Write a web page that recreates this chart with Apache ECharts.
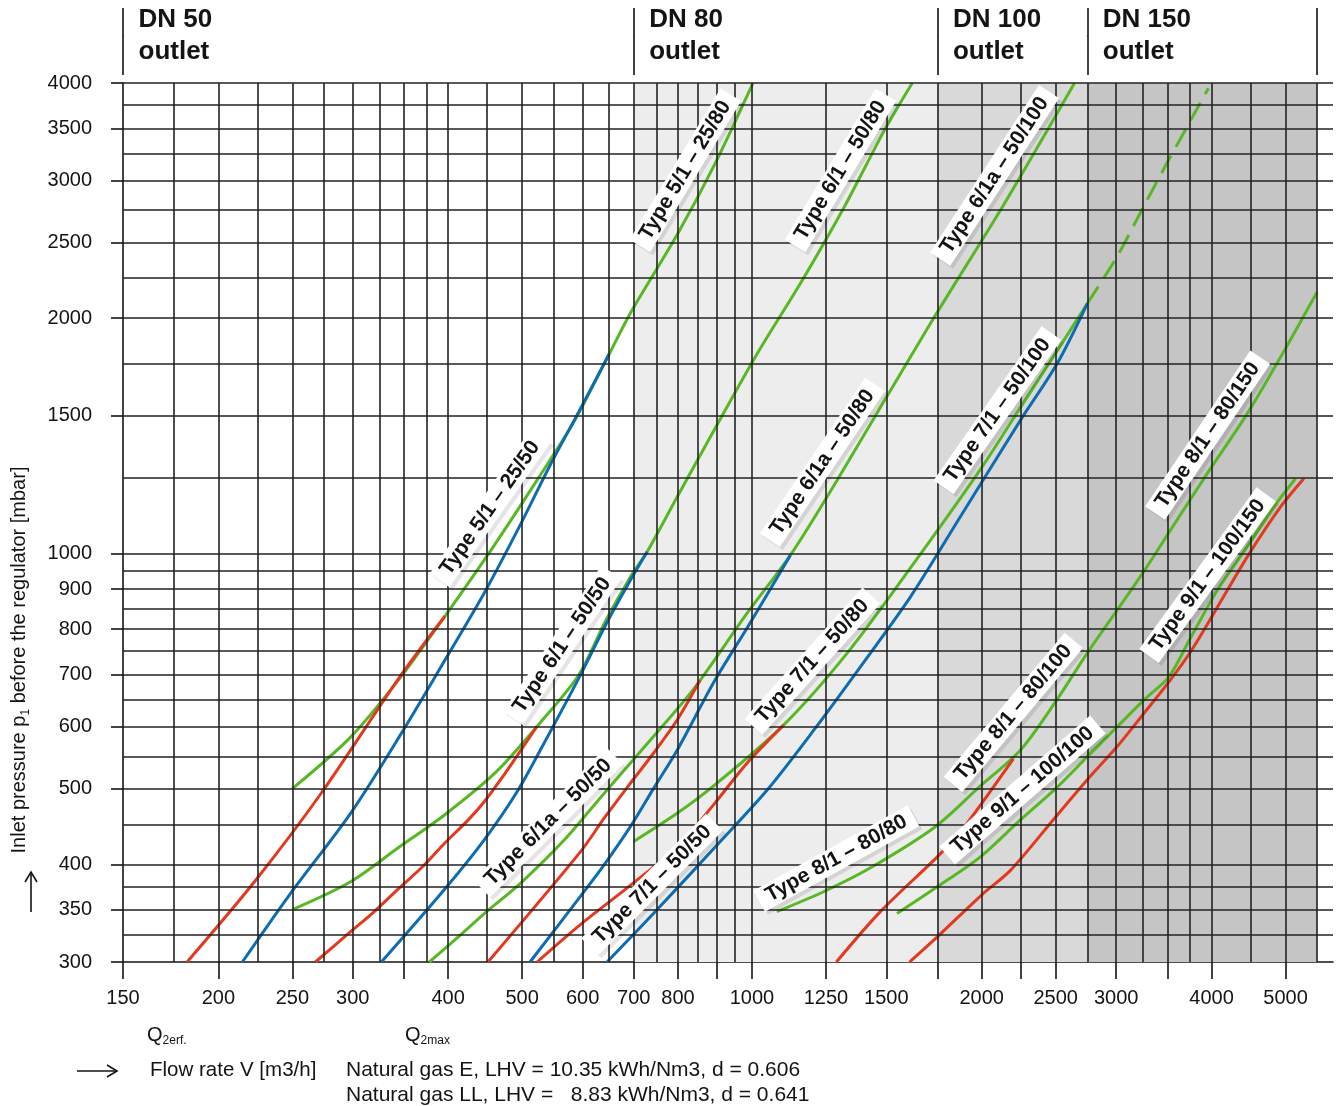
<!DOCTYPE html>
<html>
<head>
<meta charset="utf-8">
<script src="https://cdn.jsdelivr.net/npm/echarts@6/dist/echarts.min.js"></script>
<style>html,body{margin:0;padding:0;background:#fff}#c{width:1336px;height:1106px}</style>
</head>
<body>
<div id="c"></div>
<script>
// ---------- axis values ----------
const xTickValues = [150,200,250,300,350,400,500,600,700,800,900,1000,1250,1500,1750,2000,2250,2500,3000,3500,4000,5000];
const xLabelValues = [150,200,250,300,400,500,600,700,800,1000,1250,1500,2000,2500,3000,4000,5000];
const xGridValues = [175,200,225,250,275,300,325,350,375,400,450,500,550,600,650,700,750,800,850,900,950,1000,1250,1500,1750,2000,2250,2500,2750,3000,3250,3500,3750,4000,4500,5000,5500];
const yTickValues = [300,350,400,500,600,700,800,900,1000,1500,2000,2500,3000,3500,4000];
const yGridValues = [325,350,375,400,450,500,550,600,650,700,750,800,850,900,950,1000,1250,1500,1750,2000,2250,2500,2750,3000,3250,3500,3750,4000];

// ---------- outlet zones ----------
const zoneNames = ['DN 50','DN 80','DN 100','DN 150'];
const zoneBounds = [150,700,1750,2750,5500];

// ---------- curves: [flow m3/h, inlet pressure mbar] ----------
const greenType51 = [[250,500],[298,582],[346,693],[396,831],[458,1019],[523,1241],[585,1476],[648,1788],[693,2030],[800,2569],[895,3157],[1003,4000]];
const redType51   = [[182,300],[223,380],[273,494],[345,693],[396,831]];
const blueType51  = [[215,300],[248,366],[298,465],[346,585],[396,730],[446,890],[497,1087],[544,1297],[593,1517],[650,1800]];

const greenType61 = [[250,350],[298,380],[344,420],[396,463],[463,526],[527,606],[593,699],[644,822],[693,933],[729,1005],[798,1181],[1010,1784],[1164,2237],[1321,2776],[1491,3479],[1622,4000]];
const redType61   = [[268,300],[298,328],[319,347],[345,373],[369,396],[396,426],[425,456],[446,481],[473,520],[497,558],[523,601]];
const blueType61  = [[327,300],[396,372],[446,430],[494,498],[544,591],[593,692],[645,814],[693,924],[729,1005]];

const greenType61a = [[378,300],[411,322],[446,346],[497,378],[568,430],[640,493],[743,583],[843,675],[985,838],[1123,995],[1293,1241],[1713,1969],[2141,2803],[2646,4000]];
const redType61a   = [[451,300],[596,415],[642,460],[693,508],[743,555],[798,612],[855,688]];
const blueType61a  = [[512,300],[596,364],[642,401],[693,447],[743,500],[798,560],[895,689],[985,802],[1123,995]];

const greenType71       = [[700,428],[798,465],[895,506],[1100,603],[1332,745],[1629,971],[1992,1281],[2247,1537],[2499,1804],[2751,2090]];
const greenType71Dashed = [[2751,2090],[3006,2396],[3274,2803],[3513,3185],[3963,3939]];
const redType71         = [[523,300],[596,335],[693,376],[798,421],[891,477],[985,539],[1100,603]];
const blueType71        = [[646,300],[743,346],[895,421],[1047,498],[1205,594],[1387,716],[1613,880],[1875,1114],[2247,1480],[2511,1750],[2751,2090]];

const greenType81 = [[1078,348],[1241,369],[1430,396],[1739,447],[1992,504],[2247,560],[2499,646],[2748,745],[3009,846],[3258,947],[3534,1071],[3949,1266],[4455,1510],[4971,1811],[5500,2160]];
const redType81   = [[1290,300],[1473,348],[1749,409],[1875,440],[2200,546]];

const greenType91 = [[1549,346],[1739,373],[1992,409],[2247,456],[2499,500],[2748,549],[3009,600],[3261,649],[3516,695],[3753,779],[4070,897],[4455,1020],[4827,1147],[5154,1247]];
const redType91   = [[1609,300],[1749,323],[2002,366],[2181,393],[2499,460],[2748,513],[3009,566],[3261,624],[3534,689],[3753,748],[4027,838],[4455,990],[4926,1147],[5285,1247]];

// ---------- curve label texts ----------
const curveLabelText = ['Type 5/1 – 25/50','Type 5/1 – 25/80','Type 6/1 – 50/80','Type 6/1a – 50/100','Type 6/1 – 50/50','Type 6/1a – 50/80','Type 7/1 – 50/100','Type 8/1 – 80/150','Type 9/1 – 100/150','Type 6/1a – 50/50','Type 7/1 – 50/80','Type 8/1 – 80/100','Type 9/1 – 100/100','Type 7/1 – 50/50','Type 8/1 – 80/80'];

// ---------- layout / style (not data) ----------
const labelPlacement = [[454,1143,55],[818,3092,59],[1306,3092,59],[2079,3047,57],[564,763,56],[1237,1308,56],[2097,1525,55],[3953,1417,56],[3953,938,54],[541,453,45],[1200,728,48],[2200,626,50],[2262,498,41],[740,377,45],[1290,407,29]];
const FONT = "'Liberation Sans', Helvetica, Arial, sans-serif";
const INK = '#141414';
const GRID = '#222222';
const GREEN = '#58b824', RED = '#e2391f', BLUE = '#0c6db4';
const ZONE_COLORS = ['#ecedec','#d9d9d9','#c5c5c5'];
const X_MAX = 5770;

function curve(data, color, z, dashed) {
  return {
    type: 'line', xAxisIndex: 0, yAxisIndex: 0, data: data,
    symbol: 'none', showSymbol: false, smooth: 0.3, silent: true, z: z,
    lineStyle: { color: color, width: 3, type: dashed ? [20, 10] : 'solid', cap: 'butt' }
  };
}

const series = [];
// zone shading
series.push({
  type: 'line', xAxisIndex: 0, yAxisIndex: 0, data: [[1000, 1000]], symbol: 'none',
  lineStyle: { opacity: 0 }, z: 1, silent: true,
  markArea: {
    silent: true, label: { show: false },
    data: [1, 2, 3].map((i, k) => [
      { xAxis: zoneBounds[i], itemStyle: { color: ZONE_COLORS[k] } },
      { xAxis: zoneBounds[i + 1] }
    ])
  }
});
// grid lines
series.push({
  type: 'line', xAxisIndex: 0, yAxisIndex: 0, data: [[1000, 1000]], symbol: 'none',
  lineStyle: { opacity: 0 }, z: 2, silent: true,
  markLine: {
    silent: true, symbol: ['none', 'none'], label: { show: false },
    lineStyle: { color: GRID, width: 1.6, type: 'solid' },
    emphasis: { disabled: true },
    data: xGridValues.map(v => ({ xAxis: v })).concat(yGridValues.map(v => ({ yAxis: v })))
  }
});
// curves
[greenType51, greenType61, greenType61a, greenType71, greenType81, greenType91].forEach(d => series.push(curve(d, GREEN, 3)));
series.push(curve(greenType71Dashed, GREEN, 3, true));
[redType51, redType61, redType61a, redType71, redType81, redType91].forEach(d => series.push(curve(d, RED, 4)));
[blueType51, blueType61, blueType61a, blueType71].forEach(d => series.push(curve(d, BLUE, 4)));
// curve labels
series.push({
  type: 'scatter', xAxisIndex: 0, yAxisIndex: 0, symbolSize: 1, silent: true, z: 10,
  itemStyle: { color: '#ffffff', opacity: 1 },
  emphasis: { disabled: true },
  label: {
    show: true, position: 'inside', formatter: '{b}', fontFamily: FONT, fontSize: 21, fontWeight: 'bold',
    color: INK, opacity: 1, textBorderWidth: 0, backgroundColor: '#ffffff', padding: [2, 9, 1, 9],
    shadowColor: 'rgba(0,0,0,0.10)', shadowOffsetX: 3, shadowOffsetY: 3, shadowBlur: 0
  },
  data: curveLabelText.map((t, i) => ({
    name: t, value: [labelPlacement[i][0], labelPlacement[i][1]], label: { rotate: labelPlacement[i][2] }
  }))
});
// header separators
series.push({
  type: 'line', xAxisIndex: 1, yAxisIndex: 1, data: [[1000, 0.5]], symbol: 'none',
  lineStyle: { opacity: 0 }, silent: true, z: 2,
  markLine: {
    silent: true, symbol: ['none', 'none'], label: { show: false },
    lineStyle: { color: INK, width: 1.6, type: 'solid' }, emphasis: { disabled: true },
    data: zoneBounds.map(v => ({ xAxis: v }))
  }
});
// header texts
series.push({
  type: 'scatter', xAxisIndex: 1, yAxisIndex: 1, symbolSize: 1, silent: true, z: 5,
  itemStyle: { color: INK, opacity: 1 },
  emphasis: { disabled: true },
  label: {
    show: true, position: 'right', distance: 15, formatter: p => p.name + '\noutlet',
    fontFamily: FONT, fontSize: 26, fontWeight: 'bold', color: INK, opacity: 1, textBorderWidth: 0,
    lineHeight: 32, align: 'left'
  },
  data: zoneNames.map((n, i) => ({ name: n, value: [zoneBounds[i], 0.58] }))
});

const option = {
  animation: false,
  backgroundColor: '#ffffff',
  textStyle: { fontFamily: FONT },
  grid: [
    { left: 123, right: 3, top: 83, bottom: 144, containLabel: false, outerBoundsMode: 'none' },
    { left: 123, right: 3, top: 8, height: 67, containLabel: false, outerBoundsMode: 'none' }
  ],
  xAxis: [
    {
      type: 'log', logBase: 10, gridIndex: 0, min: 150, max: X_MAX,
      axisLine: { show: true, onZero: false, lineStyle: { color: INK, width: 1.6 } },
      axisTick: { show: true, customValues: xTickValues, length: 17, lineStyle: { color: INK, width: 1.6 } },
      axisLabel: { show: true, customValues: xLabelValues, margin: 26, fontSize: 20, color: INK, fontFamily: FONT,
                   hideOverlap: false, formatter: v => String(Math.round(v)) },
      splitLine: { show: false }, minorTick: { show: false }, minorSplitLine: { show: false }
    },
    { type: 'log', logBase: 10, gridIndex: 1, min: 150, max: X_MAX, show: false }
  ],
  yAxis: [
    {
      type: 'log', logBase: 10, gridIndex: 0, min: 300, max: 4000,
      axisLine: { show: true, onZero: false, lineStyle: { color: INK, width: 1.6 } },
      axisTick: { show: true, customValues: yTickValues, length: 12, lineStyle: { color: INK, width: 1.6 } },
      axisLabel: { show: true, customValues: yTickValues, margin: 31, fontSize: 20, color: INK, fontFamily: FONT,
                   hideOverlap: false, formatter: v => String(Math.round(v)) },
      splitLine: { show: false }, minorTick: { show: false }, minorSplitLine: { show: false }
    },
    { type: 'value', gridIndex: 1, min: 0, max: 1, show: false }
  ],
  graphic: [
    { type: 'text', x: 19, y: 660, rotation: Math.PI / 2, silent: true,
      style: { text: 'Inlet pressure p{s|1} before the regulator [mbar]', fontFamily: FONT, fontSize: 20, fill: INK,
               align: 'center', verticalAlign: 'middle',
               rich: { s: { fontFamily: FONT, fontSize: 12, fill: INK, verticalAlign: 'bottom', lineHeight: 26 } } } },
    { type: 'line', silent: true, shape: { x1: 31, y1: 912, x2: 31, y2: 872 }, style: { stroke: INK, lineWidth: 1.6 } },
    { type: 'polyline', silent: true, shape: { points: [[25, 882], [31, 872], [37, 882]] }, style: { stroke: INK, lineWidth: 1.6, fill: null } },
    { type: 'line', silent: true, shape: { x1: 77, y1: 1071, x2: 117, y2: 1071 }, style: { stroke: INK, lineWidth: 1.6 } },
    { type: 'polyline', silent: true, shape: { points: [[107, 1065], [117, 1071], [107, 1077]] }, style: { stroke: INK, lineWidth: 1.6, fill: null } },
    { type: 'text', x: 147, y: 1035, silent: true,
      style: { text: '{q|Q}{s|2erf.}', verticalAlign: 'middle', fill: INK,
               rich: { q: { fontFamily: FONT, fontSize: 20, fill: INK, lineHeight: 24 },
                       s: { fontFamily: FONT, fontSize: 12, fill: INK, lineHeight: 24, verticalAlign: 'bottom' } } } },
    { type: 'text', x: 405, y: 1035, silent: true,
      style: { text: '{q|Q}{s|2max}', verticalAlign: 'middle', fill: INK,
               rich: { q: { fontFamily: FONT, fontSize: 20, fill: INK, lineHeight: 24 },
                       s: { fontFamily: FONT, fontSize: 12, fill: INK, lineHeight: 24, verticalAlign: 'bottom' } } } },
    { type: 'text', x: 150, y: 1070, silent: true,
      style: { text: 'Flow rate V [m3/h]', fontFamily: FONT, fontSize: 20.5, fill: INK, verticalAlign: 'middle' } },
    { type: 'text', x: 346, y: 1070, silent: true,
      style: { text: 'Natural gas E, LHV = 10.35 kWh/Nm3, d = 0.606', fontFamily: FONT, fontSize: 21, fill: INK, verticalAlign: 'middle' } },
    { type: 'text', x: 346, y: 1095, silent: true,
      style: { text: 'Natural gas LL, LHV =   8.83 kWh/Nm3, d = 0.641', fontFamily: FONT, fontSize: 21, fill: INK, verticalAlign: 'middle' } }
  ],
  series: series
};

const chart = echarts.init(document.getElementById('c'), null, { renderer: 'canvas', width: 1336, height: 1106 });
chart.setOption(option);
</script>
</body>
</html>
